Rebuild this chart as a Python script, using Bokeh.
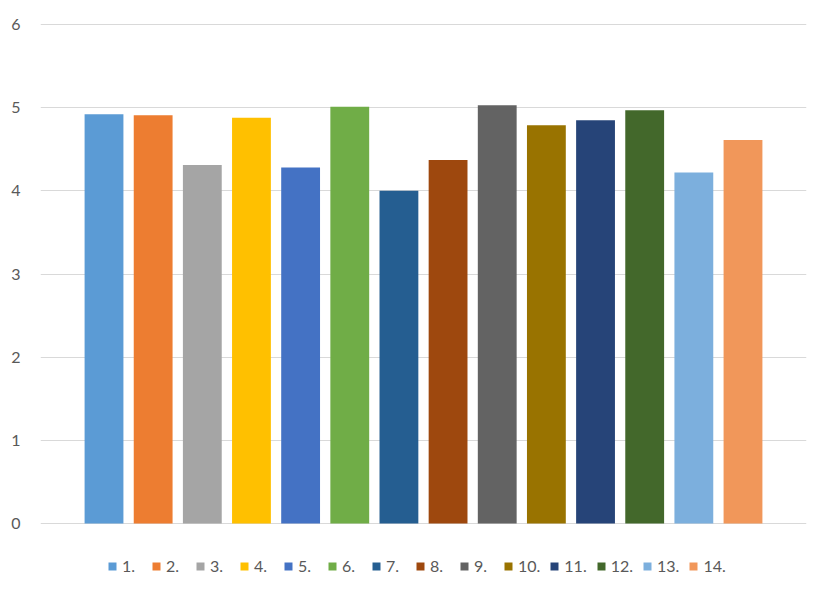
from bokeh.plotting import figure
from bokeh.models import ColumnDataSource, Range1d, Legend, LegendItem, FixedTicker
from bokeh.embed import file_html
from bokeh.resources import INLINE

labels = ["1.", "2.", "3.", "4.", "5.", "6.", "7.", "8.", "9.", "10.", "11.", "12.", "13.", "14."]
values = [4.92, 4.91, 4.31, 4.88, 4.28, 5.01, 4.00, 4.37, 5.03, 4.79, 4.85, 4.97, 4.22, 4.61]
colors = ["#5B9BD5", "#ED7D31", "#A5A5A5", "#FFC000", "#4472C4", "#70AD47", "#255E91",
          "#9E480E", "#636363", "#997300", "#264478", "#43682B", "#7CAFDD", "#F1975A"]
y_ticks = [0, 1, 2, 3, 4, 5, 6]

FONT = "Lato"
TXT = "#595959"

xs = list(range(1, len(values) + 1))
src = ColumnDataSource(dict(x=xs, top=values, color=colors, label=labels))

# frame extends below 0 to host the legend (no ticks/grid there)
p = figure(width=813, height=579, output_backend="svg", toolbar_location=None,
           x_range=Range1d(-0.292, 15.292), y_range=Range1d(-0.673, 6.024),
           min_border_left=40, min_border_right=7, min_border_top=22, min_border_bottom=0)
p.outline_line_color = None
p.background_fill_color = "white"
p.border_fill_color = "white"

r = p.vbar(x="x", top="top", width=0.79, color="color", source=src, line_color=None)

p.xaxis.visible = False
p.xgrid.visible = False
p.yaxis.ticker = FixedTicker(ticks=y_ticks)
p.yaxis.axis_line_color = None
p.yaxis.major_tick_line_color = None
p.yaxis.minor_tick_line_color = None
p.yaxis.major_label_text_font = FONT
p.yaxis.major_label_text_font_size = "16px"
p.yaxis.major_label_text_color = TXT
p.yaxis.major_label_standoff = 14
p.ygrid.grid_line_color = "#D9D9D9"
p.ygrid.grid_line_width = 1

items = [LegendItem(label=lab, renderers=[r], index=i) for i, lab in enumerate(labels)]
legend = Legend(items=items, orientation="horizontal", location=(67, 4),
                glyph_width=10, glyph_height=10, label_standoff=5, spacing=9,
                label_text_font=FONT, label_text_font_size="16px", label_text_color=TXT,
                border_line_color=None, background_fill_alpha=0,
                padding=0, margin=0)
p.add_layout(legend, "center")

open("out.html", "w").write(file_html(p, INLINE))
